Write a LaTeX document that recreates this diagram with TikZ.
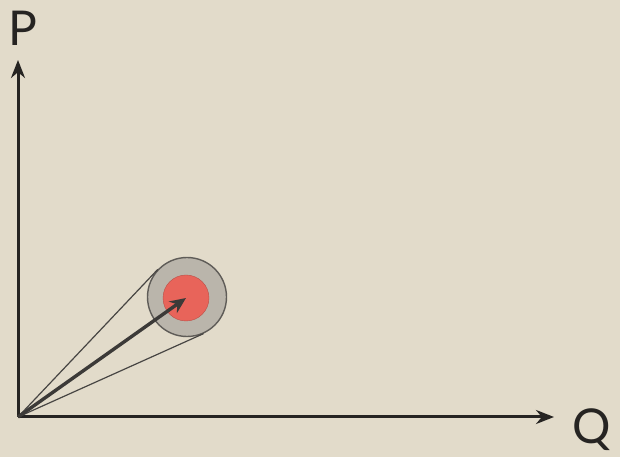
\documentclass[tikz,border=0pt]{standalone}
\usepackage{fontspec}
\setsansfont{Lato}
\usetikzlibrary{positioning,arrows.meta,calc}
\definecolor{paper}{RGB}{226,219,202}
\definecolor{ink}{RGB}{38,36,34}
\definecolor{ring}{RGB}{186,181,171}
\definecolor{ringedge}{RGB}{95,92,88}
\definecolor{spot}{RGB}{232,100,90}

\begin{document}
\begin{tikzpicture}[x=1pt,y=1pt,
    axis/.style={ink, line width=3pt, -{Stealth[length=18pt,width=14pt]}},
    axislabel/.style={ink, font=\sffamily\fontsize{48}{48}\selectfont, inner sep=0pt},
    ray/.style={ink!85, line width=1.2pt}]
        \fill[paper] (0,0) rectangle (620,457);
        \useasboundingbox (0,0) rectangle (620,457);
        \coordinate (O) at (18,40);
        \coordinate (ptip) at (18,397);
        \coordinate (qtip) at (554,40);
        \draw[axis] (O) -- (ptip);
        \draw[axis] (O) -- (qtip);
        \node[axislabel] (P) at (23,429) {P};
        \node[axislabel] (Q) at (592,27) {Q};
        \node[circle, draw=ringedge, line width=1.4pt, fill=ring,
          minimum size=79pt, inner sep=0pt] (outer) at (187,160) {};
        \node[circle, fill=spot, draw=spot!80!black, line width=0.4pt,
          minimum size=46pt, inner sep=0pt] (inner) at (186,159) {};
        \draw[ray] (O) -- (tangent cs:node=outer,point={(O)},solution=1);
        \draw[ray] (O) -- (tangent cs:node=outer,point={(O)},solution=2);
        \draw[ink!90, line width=3.4pt, -{Stealth[length=16pt,width=14pt]}] (O) -- (inner.center);
      \end{tikzpicture}
\end{document}
